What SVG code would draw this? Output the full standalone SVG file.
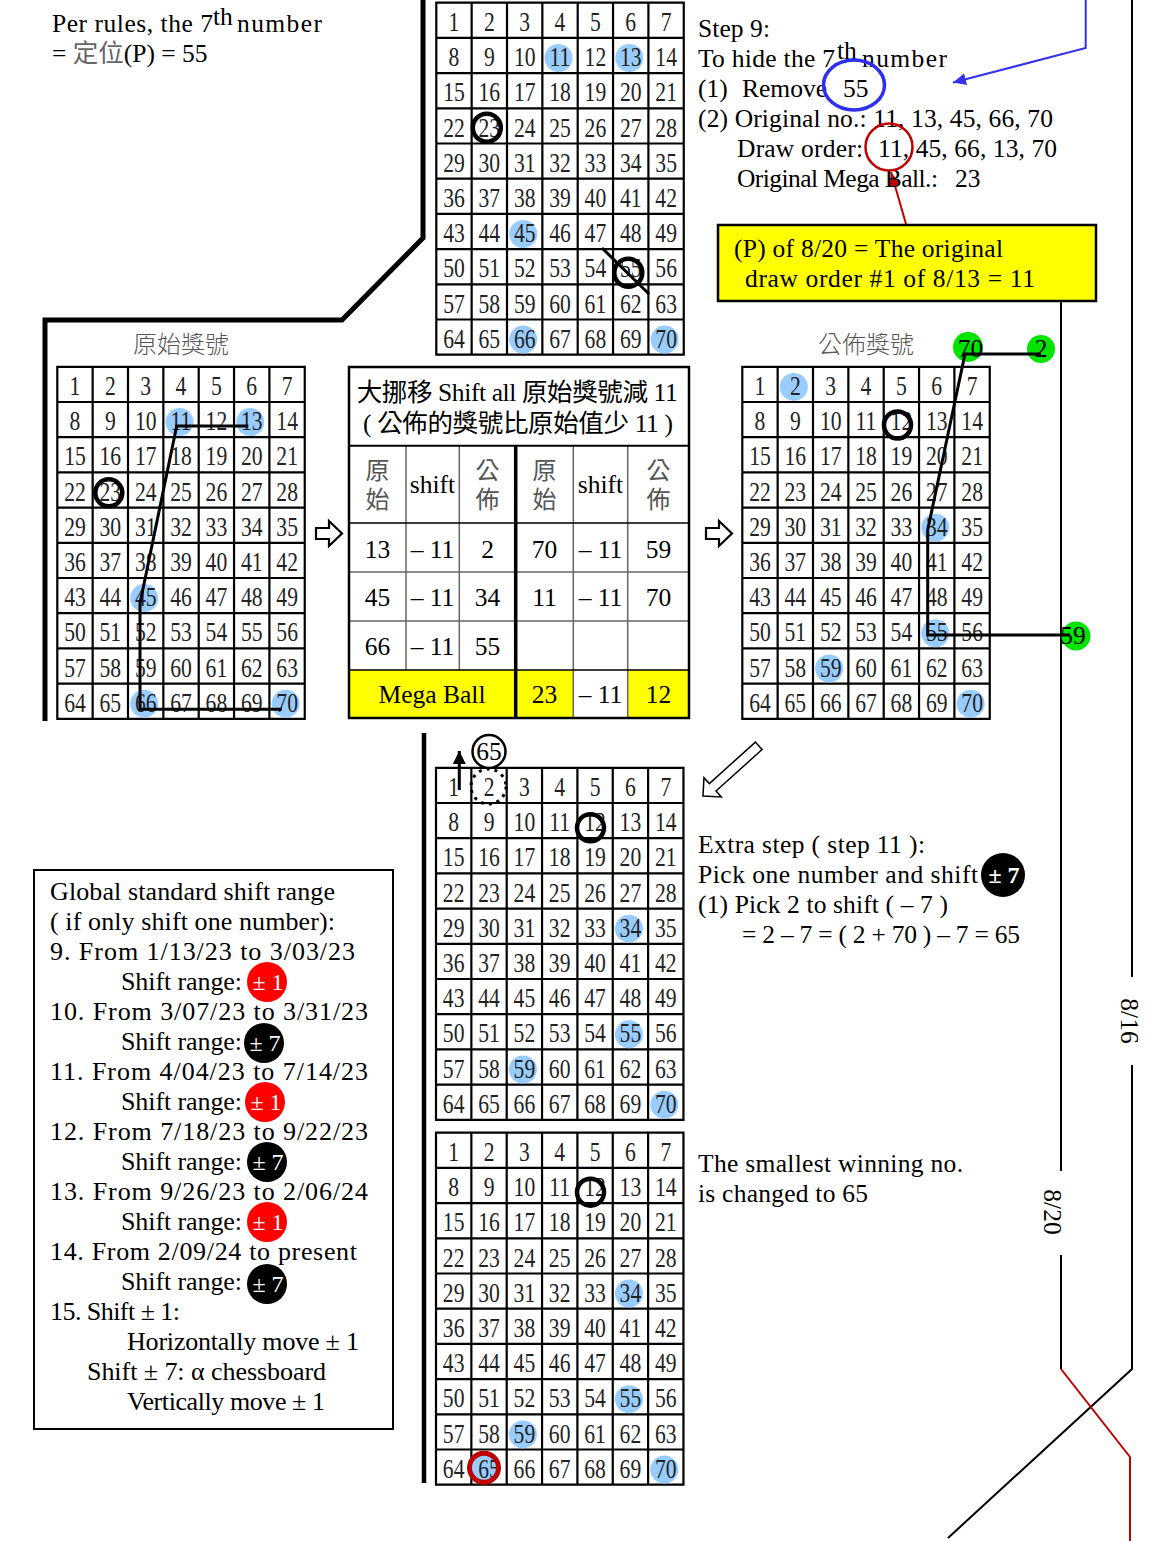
<svg xmlns="http://www.w3.org/2000/svg" width="1156" height="1541" viewBox="0 0 1156 1541">
<defs>
<style>
.t{font-family:"Liberation Serif","Noto Sans CJK TC",serif;font-size:25.5px;fill:#000}
.g{font-size:26px}
.n{font-family:"Liberation Serif",serif;font-size:27px;fill:#222;text-anchor:middle}
.c{font-family:"Noto Sans CJK TC","Liberation Serif",sans-serif;font-size:24px;fill:#555;text-anchor:middle}
.v{writing-mode:vertical-rl;letter-spacing:5px}
.gl{fill:none;stroke:#000;stroke-width:2.2}
.b{fill:#99ccff}
.ring{fill:none;stroke:#000;stroke-width:4.5}
.w{fill:#fff;text-anchor:middle;font-family:"Liberation Serif",serif;font-size:24px}
.tc{text-anchor:middle}
.ln{fill:none;stroke:#000}
</style>
<marker id="ab" markerUnits="userSpaceOnUse" markerWidth="14" markerHeight="12" refX="13" refY="6" orient="auto"><path d="M0 0L13 6L0 12Z" fill="#3333ee"/></marker>
<marker id="ar" markerUnits="userSpaceOnUse" markerWidth="15" markerHeight="11" refX="14" refY="5.5" orient="auto"><path d="M0 0L14 5.5L0 11Z" fill="#c00000"/></marker>
<marker id="ak" markerUnits="userSpaceOnUse" markerWidth="14" markerHeight="13" refX="13" refY="6.5" orient="auto"><path d="M0 0L13 6.5L0 13Z" fill="#000"/></marker>
</defs>
<rect width="1156" height="1541" fill="#fff"/>

<!-- connectors -->
<g id="connectors">
<path class="ln" stroke-width="5" d="M423 0V238L342 320H45V721"/>
<path class="ln" stroke-width="4.5" d="M424 733V1483"/>
<path class="ln" stroke-width="2" d="M1132 0V977M1132 1065V1369L948 1538"/>
<path class="ln" stroke-width="2" d="M1061 301V1171M1061 1255V1369"/>
<path fill="none" stroke="#c00000" stroke-width="2" d="M1061 1369L1130 1457V1541"/>
<path fill="none" stroke="#3333ee" stroke-width="2" d="M1085.7 0V48L953 82.5" marker-end="url(#ab)"/>
<path fill="none" stroke="#c00000" stroke-width="2" d="M906 224L891 172" marker-end="url(#ar)"/>
<polygon points="316,528 329,528 329,521 342,533.5 329,546 329,539 316,539" fill="#fff" stroke="#000" stroke-width="2.2"/>
<polygon points="706,528 719,528 719,521 732,533.5 719,546 719,539 706,539" fill="#fff" stroke="#000" stroke-width="2.2"/>
<polygon points="0,0 13,-13 13,-5 75,-5 75,5 13,5 13,13" transform="translate(703,796) rotate(-42)" fill="#fff" stroke="#000" stroke-width="1.5"/>
<path class="ln" stroke-width="3" d="M459.3 790V751" marker-end="url(#ak)"/>
</g>

<!-- top-left note -->
<g id="note-rule">
<text class="t" x="52" y="32" textLength="161">Per rules, the 7</text>
<text class="t" x="213" y="25" font-size="14">th</text>
<text class="t" x="237" y="32" textLength="85">number</text>
<text class="t" x="52" y="62">= <tspan fill="#666">定位</tspan>(P) = 55</text>
</g>

<!-- Step 9 -->
<g id="step9">
<text class="t" x="698" y="37" textLength="72">Step 9:</text>
<text class="t" x="698" y="67" textLength="137">To hide the 7</text>
<text class="t" x="837" y="59" font-size="14">th</text>
<text class="t" x="862" y="67" textLength="85">number</text>
<text class="t" x="698" y="97">(1)</text>
<text class="t" x="742" y="97" textLength="85">Remove</text>
<text class="t" x="843" y="97">55</text>
<text class="t" x="698" y="127" textLength="355">(2) Original no.: 11, 13, 45, 66, 70</text>
<text class="t" x="737" y="157" textLength="126">Draw order:</text>
<text class="t" x="878" y="157" textLength="179">11, 45, 66, 13, 70</text>
<text class="t" x="737" y="187" textLength="201">Original Mega Ball.:</text>
<text class="t" x="955" y="187">23</text>
<ellipse cx="854" cy="85" rx="30.5" ry="25" fill="none" stroke="#2f2ff0" stroke-width="3.5"/>
<circle cx="889" cy="147" r="23.5" fill="none" stroke="#c00000" stroke-width="2.5"/>
</g>

<g id="note-p">
<rect x="718" y="225" width="378" height="76" fill="#ffff00" stroke="#000" stroke-width="2.5"/>
<text class="t" x="734" y="257" textLength="269">(P) of 8/20 = The original</text>
<text class="t" x="745" y="287" textLength="290">draw order #1 of 8/13 = 11</text>
</g>

<!-- top grid -->
<g id="grid-top" transform="translate(436.3,2.7)">
<path class="gl" d="M0 0H247.45V352H0ZM35.35 0V352M70.7 0V352M106.05 0V352M141.4 0V352M176.75 0V352M212.1 0V352M0 35.2H247.45M0 70.4H247.45M0 105.6H247.45M0 140.8H247.45M0 176H247.45M0 211.2H247.45M0 246.4H247.45M0 281.6H247.45M0 316.8H247.45"/>
<circle class="b" cx="122.25" cy="55.3" r="14"/>
<circle class="b" cx="192.95" cy="55.3" r="14"/>
<circle class="b" cx="86.9" cy="231.3" r="14"/>
<circle class="b" cx="86.9" cy="336.9" r="14"/>
<circle class="b" cx="228.3" cy="336.9" r="14"/>
<g class="n" transform="scale(0.8,1)">
<text y="28.3"><tspan x="22.1">1</tspan><tspan x="66.3">2</tspan><tspan x="110.5">3</tspan><tspan x="154.6">4</tspan><tspan x="198.9">5</tspan><tspan x="243">6</tspan><tspan x="287.3">7</tspan></text>
<text y="63.5"><tspan x="22.1">8</tspan><tspan x="66.3">9</tspan><tspan x="110.5">10</tspan><tspan x="154.6">11</tspan><tspan x="198.9">12</tspan><tspan x="243">13</tspan><tspan x="287.3">14</tspan></text>
<text y="98.7"><tspan x="22.1">15</tspan><tspan x="66.3">16</tspan><tspan x="110.5">17</tspan><tspan x="154.6">18</tspan><tspan x="198.9">19</tspan><tspan x="243">20</tspan><tspan x="287.3">21</tspan></text>
<text y="133.9"><tspan x="22.1">22</tspan><tspan x="66.3">23</tspan><tspan x="110.5">24</tspan><tspan x="154.6">25</tspan><tspan x="198.9">26</tspan><tspan x="243">27</tspan><tspan x="287.3">28</tspan></text>
<text y="169.1"><tspan x="22.1">29</tspan><tspan x="66.3">30</tspan><tspan x="110.5">31</tspan><tspan x="154.6">32</tspan><tspan x="198.9">33</tspan><tspan x="243">34</tspan><tspan x="287.3">35</tspan></text>
<text y="204.3"><tspan x="22.1">36</tspan><tspan x="66.3">37</tspan><tspan x="110.5">38</tspan><tspan x="154.6">39</tspan><tspan x="198.9">40</tspan><tspan x="243">41</tspan><tspan x="287.3">42</tspan></text>
<text y="239.5"><tspan x="22.1">43</tspan><tspan x="66.3">44</tspan><tspan x="110.5">45</tspan><tspan x="154.6">46</tspan><tspan x="198.9">47</tspan><tspan x="243">48</tspan><tspan x="287.3">49</tspan></text>
<text y="274.7"><tspan x="22.1">50</tspan><tspan x="66.3">51</tspan><tspan x="110.5">52</tspan><tspan x="154.6">53</tspan><tspan x="198.9">54</tspan><tspan x="243">55</tspan><tspan x="287.3">56</tspan></text>
<text y="309.9"><tspan x="22.1">57</tspan><tspan x="66.3">58</tspan><tspan x="110.5">59</tspan><tspan x="154.6">60</tspan><tspan x="198.9">61</tspan><tspan x="243">62</tspan><tspan x="287.3">63</tspan></text>
<text y="345.1"><tspan x="22.1">64</tspan><tspan x="66.3">65</tspan><tspan x="110.5">66</tspan><tspan x="154.6">67</tspan><tspan x="198.9">68</tspan><tspan x="243">69</tspan><tspan x="287.3">70</tspan></text>
</g>
<circle class="ring" cx="50.5" cy="125" r="14"/>
<circle class="ring" cx="192" cy="270" r="14"/>
<path class="ln" stroke-width="3" d="M165.7 245.3L212.7 291.3"/>
</g>

<!-- original grid -->
<g id="grid-original" transform="translate(57.3,366.8)">
<text class="c" x="123.7" y="-13.5" font-weight="300">原始獎號</text>
<path class="gl" d="M0 0H247.45V352H0ZM35.35 0V352M70.7 0V352M106.05 0V352M141.4 0V352M176.75 0V352M212.1 0V352M0 35.2H247.45M0 70.4H247.45M0 105.6H247.45M0 140.8H247.45M0 176H247.45M0 211.2H247.45M0 246.4H247.45M0 281.6H247.45M0 316.8H247.45"/>
<circle class="b" cx="122.25" cy="55.3" r="14"/>
<circle class="b" cx="192.95" cy="55.3" r="14"/>
<circle class="b" cx="86.9" cy="231.3" r="14"/>
<circle class="b" cx="86.9" cy="336.9" r="14"/>
<circle class="b" cx="228.3" cy="336.9" r="14"/>
<g class="n" transform="scale(0.8,1)">
<text y="28.3"><tspan x="22.1">1</tspan><tspan x="66.3">2</tspan><tspan x="110.5">3</tspan><tspan x="154.6">4</tspan><tspan x="198.9">5</tspan><tspan x="243">6</tspan><tspan x="287.3">7</tspan></text>
<text y="63.5"><tspan x="22.1">8</tspan><tspan x="66.3">9</tspan><tspan x="110.5">10</tspan><tspan x="154.6">11</tspan><tspan x="198.9">12</tspan><tspan x="243">13</tspan><tspan x="287.3">14</tspan></text>
<text y="98.7"><tspan x="22.1">15</tspan><tspan x="66.3">16</tspan><tspan x="110.5">17</tspan><tspan x="154.6">18</tspan><tspan x="198.9">19</tspan><tspan x="243">20</tspan><tspan x="287.3">21</tspan></text>
<text y="133.9"><tspan x="22.1">22</tspan><tspan x="66.3">23</tspan><tspan x="110.5">24</tspan><tspan x="154.6">25</tspan><tspan x="198.9">26</tspan><tspan x="243">27</tspan><tspan x="287.3">28</tspan></text>
<text y="169.1"><tspan x="22.1">29</tspan><tspan x="66.3">30</tspan><tspan x="110.5">31</tspan><tspan x="154.6">32</tspan><tspan x="198.9">33</tspan><tspan x="243">34</tspan><tspan x="287.3">35</tspan></text>
<text y="204.3"><tspan x="22.1">36</tspan><tspan x="66.3">37</tspan><tspan x="110.5">38</tspan><tspan x="154.6">39</tspan><tspan x="198.9">40</tspan><tspan x="243">41</tspan><tspan x="287.3">42</tspan></text>
<text y="239.5"><tspan x="22.1">43</tspan><tspan x="66.3">44</tspan><tspan x="110.5">45</tspan><tspan x="154.6">46</tspan><tspan x="198.9">47</tspan><tspan x="243">48</tspan><tspan x="287.3">49</tspan></text>
<text y="274.7"><tspan x="22.1">50</tspan><tspan x="66.3">51</tspan><tspan x="110.5">52</tspan><tspan x="154.6">53</tspan><tspan x="198.9">54</tspan><tspan x="243">55</tspan><tspan x="287.3">56</tspan></text>
<text y="309.9"><tspan x="22.1">57</tspan><tspan x="66.3">58</tspan><tspan x="110.5">59</tspan><tspan x="154.6">60</tspan><tspan x="198.9">61</tspan><tspan x="243">62</tspan><tspan x="287.3">63</tspan></text>
<text y="345.1"><tspan x="22.1">64</tspan><tspan x="66.3">65</tspan><tspan x="110.5">66</tspan><tspan x="154.6">67</tspan><tspan x="198.9">68</tspan><tspan x="243">69</tspan><tspan x="287.3">70</tspan></text>
</g>
<circle class="ring" cx="51.5" cy="126" r="13.5"/>
<path class="ln" stroke-width="3" d="M191 59.2H119.4L82.7 236.5V342.5H224.4"/>
</g>

<!-- shift table -->
<g id="shift-table">
<rect x="349" y="367" width="340" height="351" fill="#fff"/>
<rect x="349" y="670" width="166.7" height="48" fill="#ffff00"/>
<rect x="515.7" y="670" width="57.6" height="48" fill="#ffff00"/>
<rect x="627.7" y="670" width="61.3" height="48" fill="#ffff00"/>
<path fill="none" stroke="#666" stroke-width="1.5" d="M406 445.7V670M459.3 445.7V670M573.3 445.7V718M627.7 445.7V718M349 572H689M349 621H689"/>
<path class="ln" stroke-width="2" d="M349 445.7H689"/>
<path class="ln" stroke-width="1.5" d="M349 523H689M349 670H689"/>
<path class="ln" stroke-width="3.5" d="M515.7 445.7V718"/>
<rect x="349" y="367" width="340" height="351" fill="none" stroke="#000" stroke-width="2.5"/>
<text class="t" x="356.7" y="401" font-size="24" textLength="321">大挪移 Shift all 原始獎號減 11</text>
<text class="t" x="363" y="432" font-size="24" textLength="310">( 公佈的獎號比原始值少 11 )</text>
<g class="c" font-size="23">
<text class="v" x="377.5" y="486.5">原始</text>
<text class="v" x="487.5" y="486.5">公佈</text>
<text class="v" x="544.5" y="486.5">原始</text>
<text class="v" x="658.5" y="486.5">公佈</text>
</g>
<g class="t tc" font-size="24">
<text x="432.5" y="493">shift</text><text x="600.5" y="493">shift</text>
<text x="377.5" y="558">13</text><text x="432.5" y="558">– 11</text><text x="487.5" y="558">2</text><text x="544.5" y="558">70</text><text x="600.5" y="558">– 11</text><text x="658.5" y="558">59</text>
<text x="377.5" y="606">45</text><text x="432.5" y="606">– 11</text><text x="487.5" y="606">34</text><text x="544.5" y="606">11</text><text x="600.5" y="606">– 11</text><text x="658.5" y="606">70</text>
<text x="377.5" y="655">66</text><text x="432.5" y="655">– 11</text><text x="487.5" y="655">55</text>
<text x="432" y="703">Mega Ball</text><text x="544.5" y="703">23</text><text x="600.5" y="703">– 11</text><text x="658.5" y="703">12</text>
</g>
</g>

<!-- announced grid -->
<g id="grid-announced" transform="translate(742.3,366.8)">
<text class="c" x="123.7" y="-13.5" font-weight="300">公佈獎號</text>
<path class="gl" d="M0 0H247.45V352H0ZM35.35 0V352M70.7 0V352M106.05 0V352M141.4 0V352M176.75 0V352M212.1 0V352M0 35.2H247.45M0 70.4H247.45M0 105.6H247.45M0 140.8H247.45M0 176H247.45M0 211.2H247.45M0 246.4H247.45M0 281.6H247.45M0 316.8H247.45"/>
<circle class="b" cx="51.55" cy="20.1" r="14"/>
<circle class="b" cx="192.95" cy="160.9" r="14"/>
<circle class="b" cx="192.95" cy="266.5" r="14"/>
<circle class="b" cx="86.9" cy="301.7" r="14"/>
<circle class="b" cx="228.3" cy="336.9" r="14"/>
<g class="n" transform="scale(0.8,1)">
<text y="28.3"><tspan x="22.1">1</tspan><tspan x="66.3">2</tspan><tspan x="110.5">3</tspan><tspan x="154.6">4</tspan><tspan x="198.9">5</tspan><tspan x="243">6</tspan><tspan x="287.3">7</tspan></text>
<text y="63.5"><tspan x="22.1">8</tspan><tspan x="66.3">9</tspan><tspan x="110.5">10</tspan><tspan x="154.6">11</tspan><tspan x="198.9">12</tspan><tspan x="243">13</tspan><tspan x="287.3">14</tspan></text>
<text y="98.7"><tspan x="22.1">15</tspan><tspan x="66.3">16</tspan><tspan x="110.5">17</tspan><tspan x="154.6">18</tspan><tspan x="198.9">19</tspan><tspan x="243">20</tspan><tspan x="287.3">21</tspan></text>
<text y="133.9"><tspan x="22.1">22</tspan><tspan x="66.3">23</tspan><tspan x="110.5">24</tspan><tspan x="154.6">25</tspan><tspan x="198.9">26</tspan><tspan x="243">27</tspan><tspan x="287.3">28</tspan></text>
<text y="169.1"><tspan x="22.1">29</tspan><tspan x="66.3">30</tspan><tspan x="110.5">31</tspan><tspan x="154.6">32</tspan><tspan x="198.9">33</tspan><tspan x="243">34</tspan><tspan x="287.3">35</tspan></text>
<text y="204.3"><tspan x="22.1">36</tspan><tspan x="66.3">37</tspan><tspan x="110.5">38</tspan><tspan x="154.6">39</tspan><tspan x="198.9">40</tspan><tspan x="243">41</tspan><tspan x="287.3">42</tspan></text>
<text y="239.5"><tspan x="22.1">43</tspan><tspan x="66.3">44</tspan><tspan x="110.5">45</tspan><tspan x="154.6">46</tspan><tspan x="198.9">47</tspan><tspan x="243">48</tspan><tspan x="287.3">49</tspan></text>
<text y="274.7"><tspan x="22.1">50</tspan><tspan x="66.3">51</tspan><tspan x="110.5">52</tspan><tspan x="154.6">53</tspan><tspan x="198.9">54</tspan><tspan x="243">55</tspan><tspan x="287.3">56</tspan></text>
<text y="309.9"><tspan x="22.1">57</tspan><tspan x="66.3">58</tspan><tspan x="110.5">59</tspan><tspan x="154.6">60</tspan><tspan x="198.9">61</tspan><tspan x="243">62</tspan><tspan x="287.3">63</tspan></text>
<text y="345.1"><tspan x="22.1">64</tspan><tspan x="66.3">65</tspan><tspan x="110.5">66</tspan><tspan x="154.6">67</tspan><tspan x="198.9">68</tspan><tspan x="243">69</tspan><tspan x="287.3">70</tspan></text>
</g>
<circle class="ring" cx="155.2" cy="58.2" r="13.5"/>
</g>

<g id="announced-links">
<circle cx="968" cy="347" r="15" fill="#00e400"/>
<circle cx="1041" cy="349" r="14" fill="#00e400"/>
<circle cx="1076" cy="636" r="14.5" fill="#00e400"/>
<path class="ln" stroke-width="3" d="M1041 354H965L927.7 530V635H1070"/>
<text class="t tc" x="970.5" y="357" font-size="26">70</text>
<text class="t tc" x="1041" y="357" font-size="26">2</text>
<text class="t tc" x="1073" y="644" font-size="26">59</text>
</g>

<!-- extra step grid -->
<g id="grid-extra" transform="translate(436,767.8)">
<path class="gl" d="M0 0H247.45V352H0ZM35.35 0V352M70.7 0V352M106.05 0V352M141.4 0V352M176.75 0V352M212.1 0V352M0 35.2H247.45M0 70.4H247.45M0 105.6H247.45M0 140.8H247.45M0 176H247.45M0 211.2H247.45M0 246.4H247.45M0 281.6H247.45M0 316.8H247.45"/>
<circle class="b" cx="192.95" cy="160.9" r="14"/>
<circle class="b" cx="192.95" cy="266.5" r="14"/>
<circle class="b" cx="86.9" cy="301.7" r="14"/>
<circle class="b" cx="228.3" cy="336.9" r="14"/>
<g class="n" transform="scale(0.8,1)">
<text y="28.3"><tspan x="22.1">1</tspan><tspan x="66.3">2</tspan><tspan x="110.5">3</tspan><tspan x="154.6">4</tspan><tspan x="198.9">5</tspan><tspan x="243">6</tspan><tspan x="287.3">7</tspan></text>
<text y="63.5"><tspan x="22.1">8</tspan><tspan x="66.3">9</tspan><tspan x="110.5">10</tspan><tspan x="154.6">11</tspan><tspan x="198.9">12</tspan><tspan x="243">13</tspan><tspan x="287.3">14</tspan></text>
<text y="98.7"><tspan x="22.1">15</tspan><tspan x="66.3">16</tspan><tspan x="110.5">17</tspan><tspan x="154.6">18</tspan><tspan x="198.9">19</tspan><tspan x="243">20</tspan><tspan x="287.3">21</tspan></text>
<text y="133.9"><tspan x="22.1">22</tspan><tspan x="66.3">23</tspan><tspan x="110.5">24</tspan><tspan x="154.6">25</tspan><tspan x="198.9">26</tspan><tspan x="243">27</tspan><tspan x="287.3">28</tspan></text>
<text y="169.1"><tspan x="22.1">29</tspan><tspan x="66.3">30</tspan><tspan x="110.5">31</tspan><tspan x="154.6">32</tspan><tspan x="198.9">33</tspan><tspan x="243">34</tspan><tspan x="287.3">35</tspan></text>
<text y="204.3"><tspan x="22.1">36</tspan><tspan x="66.3">37</tspan><tspan x="110.5">38</tspan><tspan x="154.6">39</tspan><tspan x="198.9">40</tspan><tspan x="243">41</tspan><tspan x="287.3">42</tspan></text>
<text y="239.5"><tspan x="22.1">43</tspan><tspan x="66.3">44</tspan><tspan x="110.5">45</tspan><tspan x="154.6">46</tspan><tspan x="198.9">47</tspan><tspan x="243">48</tspan><tspan x="287.3">49</tspan></text>
<text y="274.7"><tspan x="22.1">50</tspan><tspan x="66.3">51</tspan><tspan x="110.5">52</tspan><tspan x="154.6">53</tspan><tspan x="198.9">54</tspan><tspan x="243">55</tspan><tspan x="287.3">56</tspan></text>
<text y="309.9"><tspan x="22.1">57</tspan><tspan x="66.3">58</tspan><tspan x="110.5">59</tspan><tspan x="154.6">60</tspan><tspan x="198.9">61</tspan><tspan x="243">62</tspan><tspan x="287.3">63</tspan></text>
<text y="345.1"><tspan x="22.1">64</tspan><tspan x="66.3">65</tspan><tspan x="110.5">66</tspan><tspan x="154.6">67</tspan><tspan x="198.9">68</tspan><tspan x="243">69</tspan><tspan x="287.3">70</tspan></text>
</g>
<circle class="ring" cx="154.5" cy="60" r="13.5"/>
<circle cx="52.5" cy="18.7" r="17.5" fill="none" stroke="#000" stroke-width="3" stroke-dasharray="3 5"/>
</g>
<g id="pick-65">
<circle cx="489" cy="751.5" r="16.5" fill="#fff" stroke="#000" stroke-width="2.5"/>
<text class="t tc" x="489" y="760" font-size="26">65</text>
</g>

<!-- final grid -->
<g id="grid-final" transform="translate(436,1132.7)">
<path class="gl" d="M0 0H247.45V352H0ZM35.35 0V352M70.7 0V352M106.05 0V352M141.4 0V352M176.75 0V352M212.1 0V352M0 35.2H247.45M0 70.4H247.45M0 105.6H247.45M0 140.8H247.45M0 176H247.45M0 211.2H247.45M0 246.4H247.45M0 281.6H247.45M0 316.8H247.45"/>
<circle class="b" cx="192.95" cy="160.9" r="14"/>
<circle class="b" cx="192.95" cy="266.5" r="14"/>
<circle class="b" cx="86.9" cy="301.7" r="14"/>
<circle class="b" cx="49" cy="335.5" r="14"/>
<circle class="b" cx="228.3" cy="336.9" r="14"/>
<g class="n" transform="scale(0.8,1)">
<text y="28.3"><tspan x="22.1">1</tspan><tspan x="66.3">2</tspan><tspan x="110.5">3</tspan><tspan x="154.6">4</tspan><tspan x="198.9">5</tspan><tspan x="243">6</tspan><tspan x="287.3">7</tspan></text>
<text y="63.5"><tspan x="22.1">8</tspan><tspan x="66.3">9</tspan><tspan x="110.5">10</tspan><tspan x="154.6">11</tspan><tspan x="198.9">12</tspan><tspan x="243">13</tspan><tspan x="287.3">14</tspan></text>
<text y="98.7"><tspan x="22.1">15</tspan><tspan x="66.3">16</tspan><tspan x="110.5">17</tspan><tspan x="154.6">18</tspan><tspan x="198.9">19</tspan><tspan x="243">20</tspan><tspan x="287.3">21</tspan></text>
<text y="133.9"><tspan x="22.1">22</tspan><tspan x="66.3">23</tspan><tspan x="110.5">24</tspan><tspan x="154.6">25</tspan><tspan x="198.9">26</tspan><tspan x="243">27</tspan><tspan x="287.3">28</tspan></text>
<text y="169.1"><tspan x="22.1">29</tspan><tspan x="66.3">30</tspan><tspan x="110.5">31</tspan><tspan x="154.6">32</tspan><tspan x="198.9">33</tspan><tspan x="243">34</tspan><tspan x="287.3">35</tspan></text>
<text y="204.3"><tspan x="22.1">36</tspan><tspan x="66.3">37</tspan><tspan x="110.5">38</tspan><tspan x="154.6">39</tspan><tspan x="198.9">40</tspan><tspan x="243">41</tspan><tspan x="287.3">42</tspan></text>
<text y="239.5"><tspan x="22.1">43</tspan><tspan x="66.3">44</tspan><tspan x="110.5">45</tspan><tspan x="154.6">46</tspan><tspan x="198.9">47</tspan><tspan x="243">48</tspan><tspan x="287.3">49</tspan></text>
<text y="274.7"><tspan x="22.1">50</tspan><tspan x="66.3">51</tspan><tspan x="110.5">52</tspan><tspan x="154.6">53</tspan><tspan x="198.9">54</tspan><tspan x="243">55</tspan><tspan x="287.3">56</tspan></text>
<text y="309.9"><tspan x="22.1">57</tspan><tspan x="66.3">58</tspan><tspan x="110.5">59</tspan><tspan x="154.6">60</tspan><tspan x="198.9">61</tspan><tspan x="243">62</tspan><tspan x="287.3">63</tspan></text>
<text y="345.1"><tspan x="22.1">64</tspan><tspan x="66.3">65</tspan><tspan x="110.5">66</tspan><tspan x="154.6">67</tspan><tspan x="198.9">68</tspan><tspan x="243">69</tspan><tspan x="287.3">70</tspan></text>
</g>
<circle class="ring" cx="154.5" cy="59.5" r="13.5"/>
<circle cx="48" cy="335" r="14.5" fill="none" stroke="#c00000" stroke-width="5"/>
</g>

<!-- extra step text -->
<g id="extra-step">
<text class="t" x="698" y="853" textLength="227">Extra step ( step 11 ):</text>
<text class="t" x="698" y="883" textLength="280">Pick one number and shift</text>
<circle cx="1003" cy="875" r="22" fill="#000"/>
<text class="w" x="1004" y="883" font-weight="bold">± 7</text>
<text class="t" x="698" y="913" textLength="250">(1) Pick 2 to shift ( – 7 )</text>
<text class="t" x="742" y="943" textLength="278">= 2 – 7 = ( 2 + 70 ) – 7 = 65</text>
</g>

<g id="result-note">
<text class="t" x="698" y="1172" textLength="265">The smallest winning no.</text>
<text class="t" x="698" y="1202" textLength="170">is changed to 65</text>
</g>

<g id="dates">
<text class="t tc" transform="translate(1121,1021) rotate(90)" font-size="28">8/16</text>
<text class="t tc" transform="translate(1044,1212) rotate(90)" font-size="28" fill="#c00000">8/20</text>
</g>

<!-- global standard box -->
<g id="shift-range">
<rect x="34" y="870" width="359" height="559" fill="#fff" stroke="#000" stroke-width="2"/>
<g class="g">
<text class="t g" x="50" y="900" textLength="285" fill="#c00000">Global standard shift range</text>
<text class="t g" x="50" y="930" textLength="285">( if only shift one number):</text>
<text class="t g" x="50" y="960" textLength="305">9. From 1/13/23 to 3/03/23</text>
<text class="t g" x="121" y="990" textLength="121">Shift range:</text>
<text class="t g" x="50" y="1020" textLength="318">10. From 3/07/23 to 3/31/23</text>
<text class="t g" x="121" y="1050" textLength="121">Shift range:</text>
<text class="t g" x="50" y="1080" textLength="318">11. From 4/04/23 to 7/14/23</text>
<text class="t g" x="121" y="1110" textLength="121">Shift range:</text>
<text class="t g" x="50" y="1140" textLength="318">12. From 7/18/23 to 9/22/23</text>
<text class="t g" x="121" y="1170" textLength="121">Shift range:</text>
<text class="t g" x="50" y="1200" textLength="318">13. From 9/26/23 to 2/06/24</text>
<text class="t g" x="121" y="1230" textLength="121">Shift range:</text>
<text class="t g" x="50" y="1260" textLength="307">14. From 2/09/24 to present</text>
<text class="t g" x="121" y="1290" textLength="121">Shift range:</text>
<text class="t g" x="50" y="1320" textLength="130">15. Shift ± 1:</text>
<text class="t g" x="127" y="1350" textLength="232">Horizontally move ± 1</text>
<text class="t g" x="87" y="1380" textLength="239">Shift ± 7: α chessboard</text>
<text class="t g" x="127" y="1410" textLength="198">Vertically move ± 1</text>
</g>
<circle cx="267" cy="982" r="20" fill="#ff0000"/>
<circle cx="264" cy="1043" r="20" fill="#000"/>
<circle cx="265" cy="1102" r="20" fill="#ff0000"/>
<circle cx="267" cy="1162" r="20" fill="#000"/>
<circle cx="267" cy="1222" r="20" fill="#ff0000"/>
<circle cx="267" cy="1284" r="20" fill="#000"/>
<text class="w" x="268" y="990">± 1</text>
<text class="w" x="265" y="1051">± 7</text>
<text class="w" x="266" y="1110">± 1</text>
<text class="w" x="268" y="1170">± 7</text>
<text class="w" x="268" y="1230">± 1</text>
<text class="w" x="268" y="1292">± 7</text>
</g>
</svg>
